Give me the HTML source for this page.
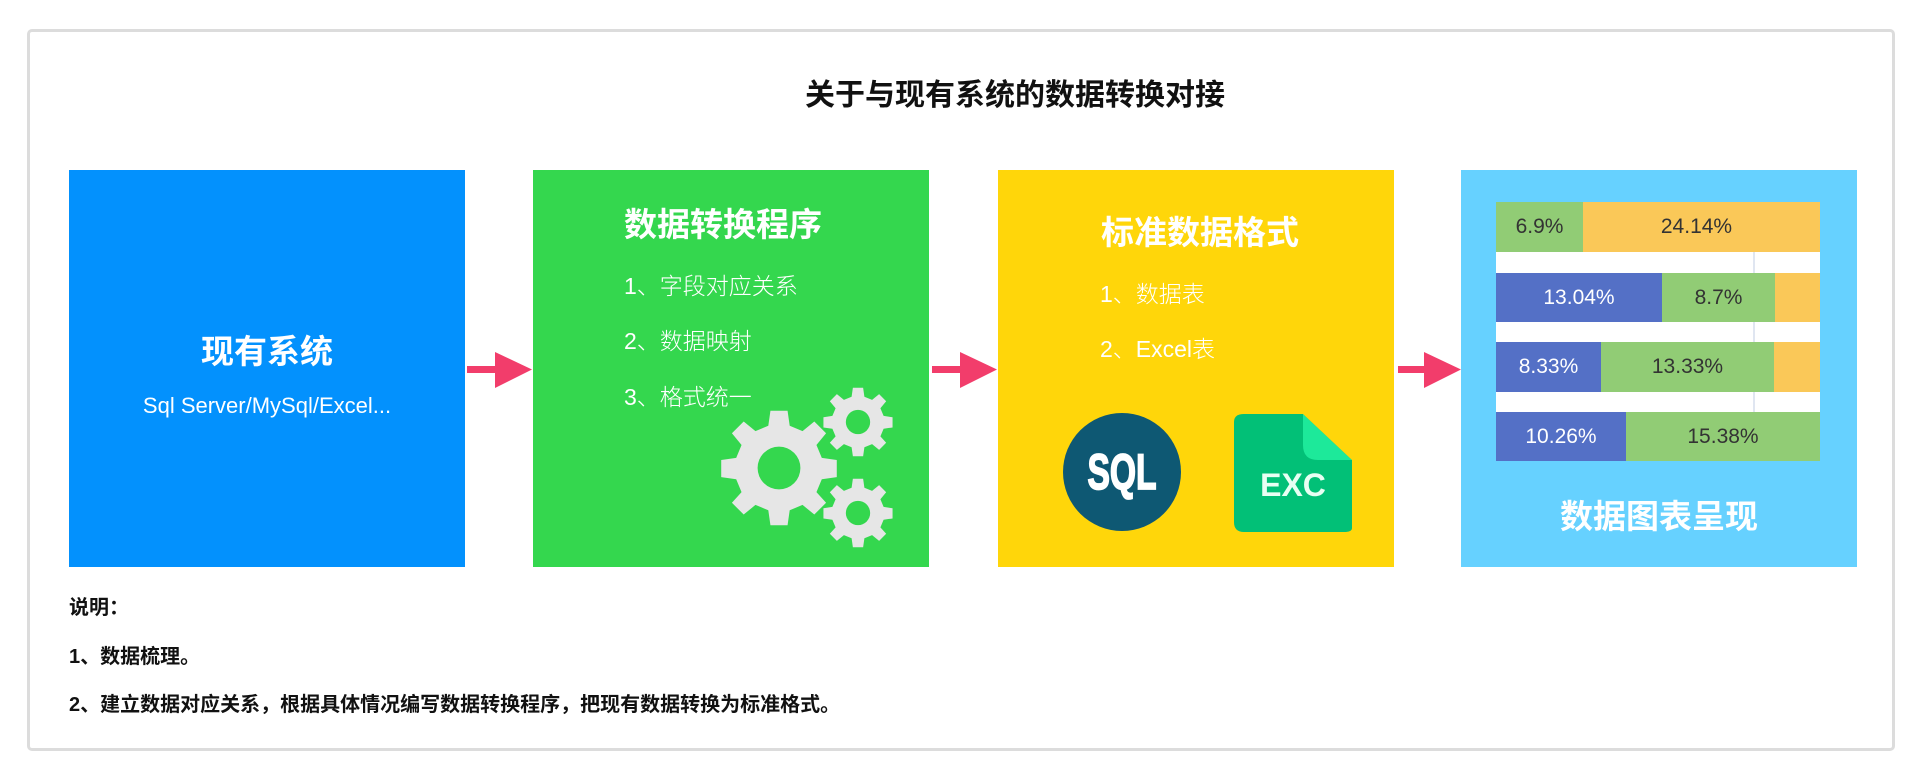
<!DOCTYPE html>
<html><head><meta charset="utf-8"><style>
*{margin:0;padding:0;box-sizing:border-box}
body{width:1920px;height:780px;background:#fff;position:relative;overflow:hidden;font-family:"Liberation Sans","Noto Sans CJK SC",sans-serif}
.a{position:absolute}
.frame{left:27px;top:29px;width:1868px;height:722px;border:3px solid #dcdcdc;border-radius:5px}
.box{position:absolute;top:170px;width:396px;height:397px}
.t{position:absolute;color:#fff;font-weight:bold;font-size:33px;white-space:nowrap}
.i{position:absolute;color:#fff;font-size:23px;white-space:nowrap;font-weight:300}
.seg{position:absolute;height:100%;top:0;display:flex;align-items:center;justify-content:center;font-size:21px;color:#333}
.row{position:absolute;left:1496px;width:324px;height:50px}
.b{background:#5470c6;color:#fff}.g{background:#91cc75}.y{background:#fac858}
.n{position:absolute;left:69px;font-size:20px;font-weight:bold;color:#111;white-space:nowrap}
</style></head><body>
<div class="a frame"></div>
<div class="a" style="left:0;width:2030px;top:70px;text-align:center;font-size:30px;font-weight:bold;color:#111">关于与现有系统的数据转换对接</div>

<div class="box" style="left:69px;background:#0391fd"></div>
<div class="t" style="left:69px;width:396px;text-align:center;top:325px">现有系统</div>
<div class="i" style="left:69px;width:396px;text-align:center;top:393px;font-size:22px">Sql Server/MySql/Excel...</div>

<div class="box" style="left:533px;background:#34d74e"></div>
<div class="t" style="left:624px;top:198px">数据转换程序</div>
<div class="i" style="left:624px;top:267px">1、字段对应关系</div>
<div class="i" style="left:624px;top:322px">2、数据映射</div>
<div class="i" style="left:624px;top:378px">3、格式统一</div>
<svg class="a" style="left:533px;top:170px" width="396" height="397">
<defs>
<g id="gear"><path d="M-8,-50 L8,-50 L10,-36 L22,-31 L33,-40 L44,-29 L35,-18 L40,-6 L54,-4 L54,12 L40,14 L35,26 L44,36 L33,47 L22,38 L10,43 L8,57 L-8,57 L-10,43 L-22,38 L-33,47 L-44,36 L-35,26 L-40,14 L-54,12 L-54,-4 L-40,-6 L-35,-18 L-44,-29 L-33,-40 L-22,-31 L-10,-36Z" transform="translate(0,-3.5)" fill="#e6e6e6"/></g>
</defs>
<g transform="translate(246,298) scale(1.07)"><use href="#gear"/><circle r="20" fill="#34d74e"/></g>
<g transform="translate(325,252) scale(0.64)"><use href="#gear"/><circle r="19" fill="#34d74e"/></g>
<g transform="translate(325,343) scale(0.64)"><use href="#gear"/><circle r="19" fill="#34d74e"/></g>
</svg>

<div class="box" style="left:998px;background:#ffd60a"></div>
<div class="t" style="left:1101px;top:206px">标准数据格式</div>
<div class="i" style="left:1100px;top:275px">1、数据表</div>
<div class="i" style="left:1100px;top:330px">2、Excel表</div>
<svg class="a" style="left:998px;top:170px" width="396" height="397">
<ellipse cx="124" cy="302" rx="59" ry="59" fill="#0e5873"/>
<text x="0" y="0" text-anchor="middle" fill="#fff" stroke="#fff" stroke-width="1.5" font-family="Liberation Sans, sans-serif" font-weight="bold" font-size="42" transform="translate(124,319) scale(0.8,1.2)">SQL</text>
<path d="M236,252 Q236,244 246,244 L350,244 L354,244 L354,358 Q354,362 346,362 L246,362 Q236,362 236,352Z" fill="#02c077"/>
<path d="M305,244 L354,290 L320,290 Q305,290 305,275Z" fill="#1de99a"/>
<path d="M305,244 L354,244 L354,290Z" fill="#ffd60a"/>
<text x="295" y="326" text-anchor="middle" fill="#e8fff3" font-weight="bold" font-size="32">EXC</text>
</svg>

<div class="box" style="left:1461px;background:#66d1ff"></div>
<div class="a" style="left:1496px;top:202px;width:324px;height:259px;background:#fff"></div>
<div class="a" style="left:1753px;top:202px;width:2px;height:259px;background:#e0e6f1"></div>
<div class="row" style="top:202px"><div class="seg g" style="left:0;width:87px">6.9%</div><div class="seg y" style="left:87px;width:237px;padding-right:10px">24.14%</div></div>
<div class="row" style="top:273px;height:49px"><div class="seg b" style="left:0;width:166px">13.04%</div><div class="seg g" style="left:166px;width:113px">8.7%</div><div class="seg y" style="left:279px;width:45px"></div></div>
<div class="row" style="top:342px"><div class="seg b" style="left:0;width:105px">8.33%</div><div class="seg g" style="left:105px;width:173px">13.33%</div><div class="seg y" style="left:278px;width:46px"></div></div>
<div class="row" style="top:412px;height:49px"><div class="seg b" style="left:0;width:130px">10.26%</div><div class="seg g" style="left:130px;width:194px">15.38%</div></div>
<div class="t" style="left:1461px;width:396px;text-align:center;top:490px">数据图表呈现</div>

<svg class="a" style="left:0;top:0" width="1920" height="780">
<g fill="#f23d6b">
<rect x="467" y="366" width="32" height="7"/><polygon points="495,352 532,369.5 495,388"/>
<rect x="932" y="366" width="32" height="7"/><polygon points="960,352 997,369.5 960,388"/>
<rect x="1398" y="366" width="28" height="7"/><polygon points="1424,352 1461,369.5 1424,388"/>
</g>
</svg>

<div class="n" style="top:591px">说明：</div>
<div class="n" style="top:640px">1、数据梳理。</div>
<div class="n" style="top:688px">2、建立数据对应关系，根据具体情况编写数据转换程序，把现有数据转换为标准格式。</div>
</body></html>
